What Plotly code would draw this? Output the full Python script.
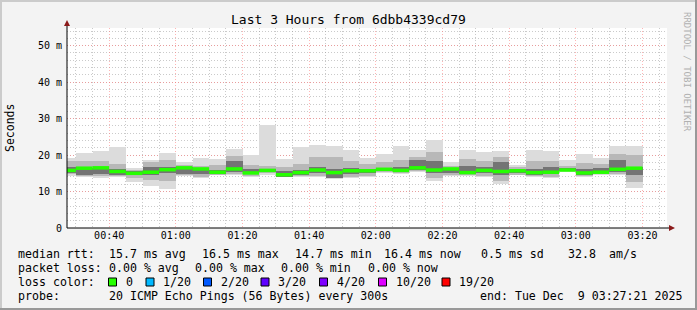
import pandas as pd
import plotly.graph_objects as go

# ---------------- data (milliseconds) ----------------
bar_start = pd.date_range("2025-12-09 00:25:00", periods=35, freq="5min")
ping_max = [19.2, 20.6, 21.2, 22.1, 16.4, 18.7, 20.6, 18.1, 19.2, 19.0, 21.6, 20.1, 28.2, 19.0, 22.2, 22.8, 22.5, 21.4,
            19.2, 20.3, 22.5, 21.4, 24.2, 18.1, 21.4, 20.8, 21.0, 17.4, 21.4, 21.2, 18.6, 20.3, 19.2, 22.5, 22.5]
mid_hi = [18.3, 18.3, 18.4, 17.6, 16.0, 18.0, 18.7, 17.4, 17.0, 17.2, 19.8, 17.2, 17.0, 16.8, 17.5, 19.5, 19.4, 18.4,
          17.5, 18.0, 18.6, 19.6, 20.8, 17.0, 19.0, 18.5, 19.4, 16.6, 18.5, 18.4, 17.0, 17.8, 17.5, 20.2, 20.0]
in_hi = [16.6, 16.5, 16.6, 16.1, 15.5, 16.8, 16.6, 16.6, 16.3, 15.9, 18.5, 16.3, 16.3, 15.6, 16.0, 16.8, 16.2, 16.4,
         16.3, 16.4, 16.8, 18.6, 18.5, 16.4, 17.0, 16.7, 18.2, 16.0, 16.3, 16.6, 16.4, 16.1, 16.5, 18.6, 16.6]
median = [15.8, 16.4, 16.5, 15.5, 15.0, 15.3, 16.0, 16.5, 16.2, 15.3, 16.2, 15.1, 15.8, 14.6, 15.2, 15.9, 15.2, 15.7,
          15.7, 16.1, 15.8, 16.5, 15.9, 16.2, 15.2, 15.8, 15.5, 15.7, 15.2, 15.3, 15.9, 15.1, 15.3, 16.1, 16.4]
in_lo = [15.2, 14.4, 14.9, 14.6, 14.4, 14.6, 15.0, 14.7, 14.8, 14.9, 15.3, 14.7, 15.4, 14.1, 14.6, 15.0, 13.8, 14.8,
         15.0, 15.6, 15.3, 16.0, 15.0, 15.0, 14.7, 15.0, 14.5, 15.0, 14.6, 14.7, 15.7, 14.6, 15.0, 15.3, 14.6]
mid_lo = [14.8, 14.2, 14.2, 14.3, 13.6, 13.2, 12.8, 14.4, 14.0, 14.6, 14.8, 14.2, 15.1, 14.0, 14.2, 14.3, 13.6, 14.1,
          14.3, 15.3, 15.0, 15.6, 13.8, 14.5, 14.4, 14.3, 13.0, 14.6, 14.2, 14.1, 15.5, 14.3, 14.8, 14.9, 12.5]
ping_min = [14.3, 14.0, 13.7, 14.1, 12.5, 11.6, 10.8, 14.2, 13.7, 14.4, 14.4, 13.9, 14.4, 13.9, 13.9, 13.9, 13.4, 13.7,
            13.9, 15.1, 14.8, 15.4, 12.8, 14.2, 14.2, 13.9, 12.1, 14.4, 13.9, 13.7, 15.4, 14.1, 14.6, 14.6, 11.0]

y_ticks = [0, 10, 20, 30, 40, 50]
y_tick_text = ["0", "10 m", "20 m", "30 m", "40 m", "50 m"]

title_text = "Last 3 Hours from 6dbb4339cd79"
loss_labels = ["0", "1/20", "2/20", "3/20", "4/20", "10/20", "19/20"]
loss_colors = ["#26ff00", "#00b8ff", "#0059ff", "#5e00ff", "#7e00ff", "#dd00ff", "#ff0000"]

# ---------------- geometry helpers ----------------
W, H = 697, 310
L, R, T, B = 67, 667, 28, 228
PW, PH = R - L, B - T


def px(x):
    return (x - L) / PW


def py(y):
    return (B - y) / PH


BAR_MS = 5 * 60 * 1000
centers = bar_start + pd.Timedelta(minutes=2.5)

fig = go.Figure()


def band(lo, hi, color):
    fig.add_trace(go.Bar(
        x=centers, base=lo, y=[h - l for h, l in zip(hi, lo)],
        width=[BAR_MS] * len(lo), marker=dict(color=color, line=dict(width=0)),
        hoverinfo="skip", showlegend=False))


band(ping_min, ping_max, "#dcdcdc")
band(mid_lo, mid_hi, "#b8b8b8")
band(in_lo, in_hi, "#747474")

# median segments
mx, my = [], []
for s, m in zip(bar_start, median):
    mx += [s, s + pd.Timedelta(minutes=5), None]
    my += [m, m, None]
fig.add_trace(go.Scatter(x=mx, y=my, mode="lines", line=dict(color=loss_colors[0], width=3.5),
                         hoverinfo="skip", showlegend=False))

mono = "DejaVu Sans Mono"

fig.update_layout(
    width=W, height=H, margin=dict(l=L, r=W - R, t=T, b=H - B),
    paper_bgcolor="#f3f3f3", plot_bgcolor="#ffffff",
    barmode="overlay", bargap=0, showlegend=False,
    font=dict(family=mono, size=10, color="#000000"),
)

fig.update_xaxes(
    type="date", range=["2025-12-09 00:27:21", "2025-12-09 03:27:21"],
    tick0="2025-12-09 00:00:00", dtick=20 * 60 * 1000, tickformat="%H:%M",
    showgrid=True, gridcolor="rgba(255,120,120,0.55)", griddash="1px,2px", gridwidth=1,
    minor=dict(dtick=BAR_MS, tick0="2025-12-09 00:00:00", showgrid=True,
               gridcolor="rgba(150,150,150,0.5)", griddash="1px,2px", gridwidth=1),
    showline=False, zeroline=False, ticks="", layer="above traces",
    tickfont=dict(family=mono, size=10),
)
fig.update_yaxes(
    range=[0, 54.85], tickvals=y_ticks, ticktext=y_tick_text,
    showgrid=True, gridcolor="rgba(255,120,120,0.55)", griddash="1px,2px", gridwidth=1,
    minor=dict(dtick=2, tick0=0, showgrid=True, gridcolor="rgba(150,150,150,0.5)",
               griddash="1px,2px", gridwidth=1),
    showline=False, zeroline=False, ticks="", layer="above traces",
    tickfont=dict(family=mono, size=10), ticklabelstandoff=4,
)

shapes = []
# axis lines with arrows
shapes.append(dict(type="line", xref="paper", yref="paper", x0=px(67), x1=px(671), y0=py(228), y1=py(228),
                   line=dict(color="#000000", width=1)))
shapes.append(dict(type="line", xref="paper", yref="paper", x0=px(67), x1=px(67), y0=py(228), y1=py(24),
                   line=dict(color="#000000", width=1)))
shapes.append(dict(type="path", xref="paper", yref="paper",
                   path=f"M {px(669)} {py(225)} L {px(675)} {py(228)} L {px(669)} {py(231)} Z",
                   fillcolor="#8b1a1a", line=dict(width=0)))
shapes.append(dict(type="path", xref="paper", yref="paper",
                   path=f"M {px(64)} {py(26)} L {px(67)} {py(20)} L {px(70)} {py(26)} Z",
                   fillcolor="#8b1a1a", line=dict(width=0)))
# 3D border
shapes.append(dict(type="rect", xref="paper", yref="paper", x0=px(0), x1=px(697), y0=py(0), y1=py(2),
                   fillcolor="#cbcbcb", line=dict(width=0)))
shapes.append(dict(type="rect", xref="paper", yref="paper", x0=px(0), x1=px(2), y0=py(0), y1=py(310),
                   fillcolor="#cbcbcb", line=dict(width=0)))
shapes.append(dict(type="rect", xref="paper", yref="paper", x0=px(0), x1=px(697), y0=py(308), y1=py(310),
                   fillcolor="#999999", line=dict(width=0)))
shapes.append(dict(type="rect", xref="paper", yref="paper", x0=px(695), x1=px(697), y0=py(0), y1=py(310),
                   fillcolor="#999999", line=dict(width=0)))

annotations = []


def txt(x, y, s, size=11.6, anchor="left", color="#000000", angle=0, family=mono):
    annotations.append(dict(xref="paper", yref="paper", x=px(x), y=py(y), text=s, showarrow=False,
                            xanchor=anchor, yanchor="middle", textangle=angle,
                            font=dict(family=family, size=size, color=color)))


txt(348, 19, title_text, size=13, anchor="center")
txt(10, 128, "Seconds", size=11.5, anchor="center", angle=-90)
txt(687, 72, "RRDTOOL / TOBI OETIKER", size=9, anchor="center", angle=90, color="#b0b0b0")

# legend lines
y1, y2, y3, y4 = 254, 268, 282, 296
txt(16, y1, "median rtt:")
for x, s in [(107, "15.7 ms avg"), (200, "16.5 ms max"), (292.5, "14.7 ms min"), (382, "16.4 ms now"),
             (479, "0.5 ms sd"), (566, "32.8"), (607, "am/s")]:
    txt(x, y1, s)
txt(16, y2, "packet loss:")
for x, s in [(107, "0.00 % avg"), (193, "0.00 % max"), (279, "0.00 % min"), (366, "0.00 % now")]:
    txt(x, y2, s)
txt(16, y3, "loss color:")
box_x = [108.5, 146, 203.5, 261, 319.5, 378.5, 442]
for bx, lab, col in zip(box_x, loss_labels, loss_colors):
    shapes.append(dict(type="rect", xref="paper", yref="paper", x0=px(bx), x1=px(bx + 8), y0=py(y3 - 4),
                       y1=py(y3 + 4), fillcolor=col, line=dict(color="#000000", width=1)))
    txt(bx + 15, y3, lab)
txt(16, y4, "probe:")
txt(107, y4, "20 ICMP Echo Pings (56 Bytes) every 300s")
txt(478, y4, "end: Tue Dec  9 03:27:21 2025")

fig.update_layout(shapes=shapes, annotations=annotations)
fig.write_html("out.html")
